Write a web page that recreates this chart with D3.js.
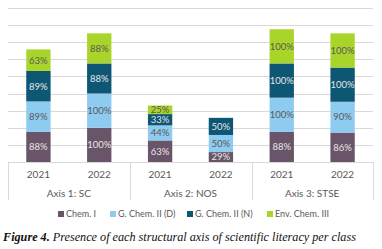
<!DOCTYPE html>
<meta charset="utf-8">
<style>
body {
  background: #fff;
  margin: 0;
  padding: 0;
}
.grid line {
  stroke: #d9d9d9;
  stroke-width: 1px;
}
.lbl {
  font-family: Lato, 'Open Sans', sans-serif;
  font-size: 9.5px;
  text-anchor: middle;
}
.tick-label {
  font-family: Lato, 'Open Sans', sans-serif;
  font-size: 10px;
  fill: #595959;
  text-anchor: middle;
}
.legend text {
  font-family: Lato, 'Open Sans', sans-serif;
  font-size: 9px;
  fill: #595959;
}
.caption {
  font-family: 'Liberation Serif', 'Times New Roman', serif;
  font-style: italic;
  font-size: 12.2px;
  fill: #111;
}
</style>
<body>
<script src="https://d3js.org/d3.v7.min.js"></script>
<script>
var years = ["2021", "2022", "2021", "2022", "2021", "2022"];
var groups = ["Axis 1: SC", "Axis 2: NOS", "Axis 3: STSE"];
var seriesNames = ["Chem. I", "G. Chem. II (D)", "G. Chem. II (N)", "Env. Chem. III"];
var chem1 = [88, 100, 63, 29, 88, 86];
var gChemD = [89, 100, 44, 50, 100, 90];
var gChemN = [89, 88, 33, 50, 100, 100];
var envChem = [63, 88, 25, 0, 100, 100];
var yTicks = [0, 50, 100, 150, 200, 250, 300, 350, 400, 450];

var colors = ["#6a5469", "#8ecbf0", "#0d5674", "#a9d52b"];
var textColors = ["#e6e6e6", "#595959", "#e6e6e6", "#595959"];

var width = 382,
    height = 249;

var rows = years.map(function(y, i) {
  return {i: i, year: y, s0: chem1[i], s1: gChemD[i], s2: gChemN[i], s3: envChem[i]};
});
var keys = ["s0", "s1", "s2", "s3"];
var stacked = d3.stack().keys(keys)(rows);

var x = d3.scaleBand()
    .domain(d3.range(years.length))
    .range([8, 373])
    .paddingInner(0.6)
    .paddingOuter(0.3);

var y = d3.scaleLinear()
    .domain([0, 450])
    .range([162, 8]);

var svg = d3.select("body").append("svg")
    .attr("width", width)
    .attr("height", height);

// gridlines
svg.append("g")
    .attr("class", "grid")
  .selectAll("line")
  .data(yTicks)
  .join("line")
    .attr("x1", 8)
    .attr("x2", 373)
    .attr("y1", function(d) { return Math.round(y(d)) + 0.5; })
    .attr("y2", function(d) { return Math.round(y(d)) + 0.5; });

// bars
var layer = svg.selectAll(".layer")
  .data(stacked)
  .join("g")
    .attr("class", "layer")
    .attr("fill", function(d, i) { return colors[i]; });

layer.selectAll("rect")
  .data(function(d) { return d.filter(function(p) { return p[1] - p[0] > 0; }); })
  .join("rect")
    .attr("x", function(d) { return x(d.data.i); })
    .attr("width", x.bandwidth())
    .attr("y", function(d) { return y(d[1]); })
    .attr("height", function(d) { return y(d[0]) - y(d[1]); });

// data labels
stacked.forEach(function(s, k) {
  svg.append("g").selectAll("text")
    .data(s.filter(function(p) { return p[1] - p[0] > 0; }))
    .join("text")
      .attr("class", "lbl")
      .attr("fill", textColors[k])
      .attr("x", function(d) { return x(d.data.i) + x.bandwidth() / 2; })
      .attr("y", function(d) { return (y(d[0]) + y(d[1])) / 2; })
      .attr("dy", "0.35em")
      .text(function(d) { return (d[1] - d[0]) + "%"; });
});

// category axis
svg.append("line")
    .attr("x1", 8).attr("x2", 373)
    .attr("y1", 162.5).attr("y2", 162.5)
    .attr("stroke", "#d9d9d9");

var sepX = [8, 130, 252, 373];
svg.selectAll(".sep")
  .data(sepX)
  .join("line")
    .attr("class", "sep")
    .attr("x1", function(d) { return d + 0.5; })
    .attr("x2", function(d) { return d + 0.5; })
    .attr("y1", 162)
    .attr("y2", 200)
    .attr("stroke", "#d9d9d9");

svg.selectAll(".year")
  .data(years)
  .join("text")
    .attr("class", "tick-label year")
    .attr("x", function(d, i) { return x(i) + x.bandwidth() / 2; })
    .attr("y", 178)
    .text(function(d) { return d; });

svg.selectAll(".group")
  .data(groups)
  .join("text")
    .attr("class", "tick-label group")
    .attr("x", function(d, i) { return (x(i * 2) + x(i * 2 + 1) + x.bandwidth()) / 2; })
    .attr("y", 197)
    .text(function(d) { return d; });

// legend
var legendX = [58, 110, 187, 267];
var legend = svg.append("g").attr("class", "legend");
seriesNames.forEach(function(n, i) {
  legend.append("rect")
      .attr("x", legendX[i])
      .attr("y", 211)
      .attr("width", 6)
      .attr("height", 6)
      .attr("fill", colors[i]);
  legend.append("text")
      .attr("x", legendX[i] + 8)
      .attr("y", 217)
      .text(n);
});

// caption
var cap = svg.append("text")
    .attr("class", "caption")
    .attr("x", 3)
    .attr("y", 241);
cap.append("tspan").attr("font-weight", "bold").text("Figure 4.");
cap.append("tspan").text(" Presence of each structural axis of scientific literacy per class");
</script>
</body>
